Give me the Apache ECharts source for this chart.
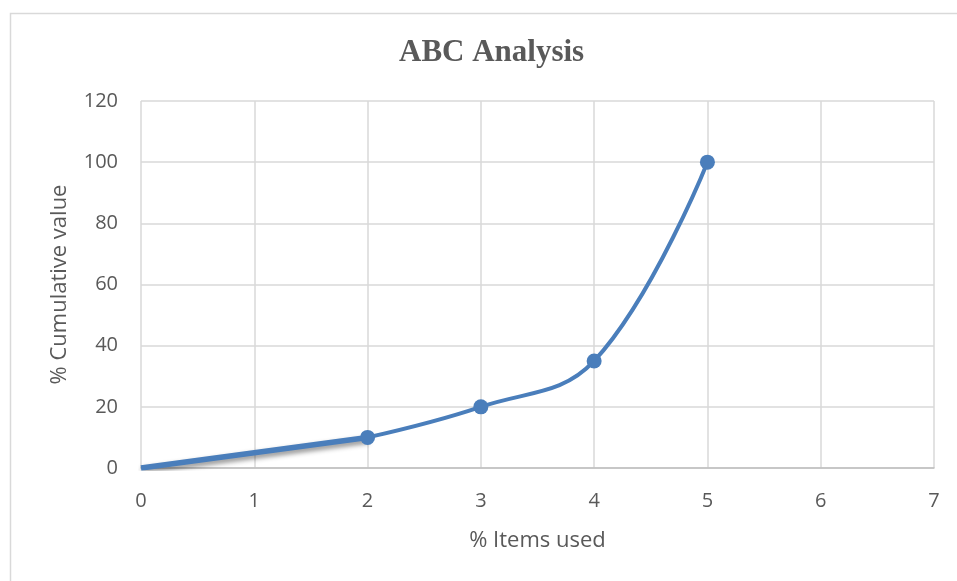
<!DOCTYPE html>
<html><head><meta charset="utf-8">
<script src="https://cdn.jsdelivr.net/npm/echarts@6/dist/echarts.min.js"></script>
<style>html,body{margin:0;padding:0;background:#fff}#c{width:957px;height:581px}</style>
</head><body><div id="c"></div>
<script>
var itemsUsed = [2, 3, 4, 5];
var cumulativeValue = [10, 20, 35, 100];
var startSegmentX = [0, 2];
var startSegmentY = [0, 10];
var xTicks = [0, 1, 2, 3, 4, 5, 6, 7];
var yTicks = [0, 20, 40, 60, 80, 100, 120];

var chart = echarts.init(document.getElementById('c'), null, {renderer: 'canvas'});
var txt = '#595959';
chart.setOption({
  animation: false,
  graphic: [{type: 'rect', left: 8, top: 11, shape: {width: 960, height: 580}, style: {fill: 'none', stroke: '#d9d9d9', lineWidth: 1.5}, z: -1}],
  title: {text: 'ABC Analysis', left: 394, top: 32,
    textStyle: {fontFamily: 'Liberation Serif', fontWeight: 'bold', fontSize: 31, color: txt}},
  grid: {left: 141, right: 23, top: 101, bottom: 113},
  xAxis: {type: 'value', min: 0, max: 7, interval: 1,
    name: '% Items used', nameLocation: 'middle', nameGap: 62,
    nameTextStyle: {fontFamily: 'Open Sans', fontSize: 22, color: txt},
    axisLine: {show: true, lineStyle: {color: '#bfbfbf', width: 1.5}},
    axisTick: {show: false},
    axisLabel: {fontFamily: 'Open Sans', fontSize: 20, color: txt, margin: 23,
      formatter: function(v){ return xTicks.indexOf(v) >= 0 ? String(v) : ''; }},
    splitLine: {show: true, lineStyle: {color: '#d9d9d9', width: 1.5}}},
  yAxis: {type: 'value', min: 0, max: 120, interval: 20,
    name: '% Cumulative value', nameLocation: 'middle', nameGap: 70,
    nameTextStyle: {fontFamily: 'Open Sans', fontSize: 22, color: txt},
    axisLine: {show: false}, axisTick: {show: false},
    axisLabel: {fontFamily: 'Open Sans', fontSize: 20, color: txt, margin: 23,
      formatter: function(v){ return yTicks.indexOf(v) >= 0 ? String(v) : ''; }},
    splitLine: {show: true, lineStyle: {color: '#d9d9d9', width: 1.5}}},
  series: [
    {type: 'line', data: startSegmentX.map(function(x, i){ return [x, startSegmentY[i]]; }),
      showSymbol: false, symbol: 'none',
      lineStyle: {color: '#4a7ebb', width: 5.5, shadowColor: 'rgba(0,0,0,0.45)', shadowBlur: 5, shadowOffsetX: 1, shadowOffsetY: 3}, z: 2},
    {type: 'line', data: itemsUsed.map(function(x, i){ return [x, cumulativeValue[i]]; }),
      smooth: 0.4, symbol: 'circle', symbolSize: 15,
      itemStyle: {color: '#4a7ebb'},
      lineStyle: {color: '#4a7ebb', width: 4}, z: 3}
  ]
});
</script></body></html>
